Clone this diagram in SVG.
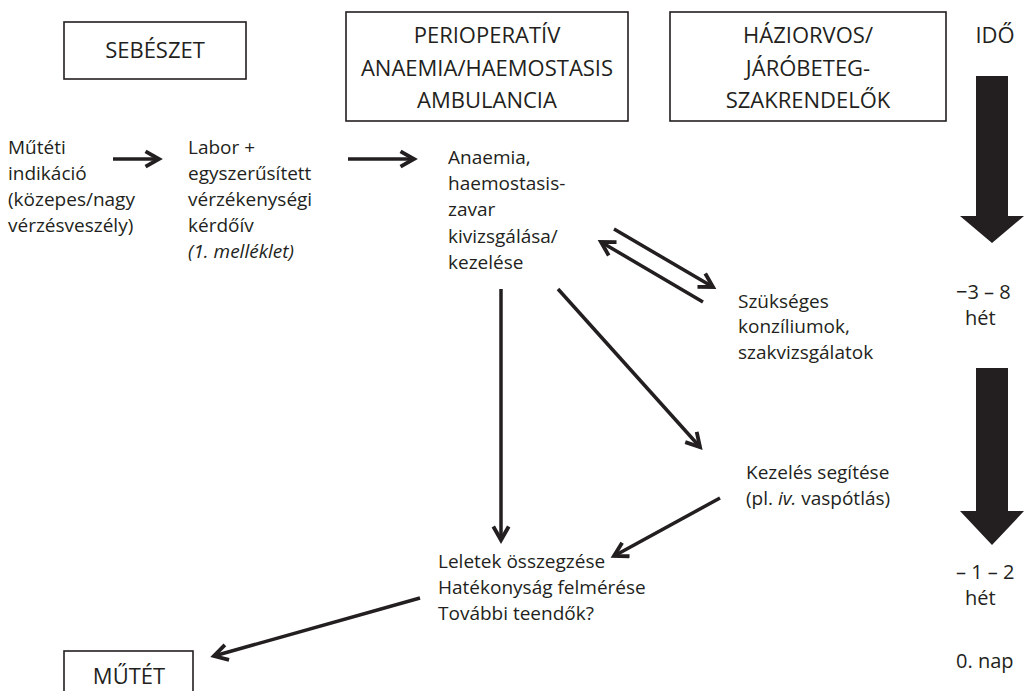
<svg xmlns="http://www.w3.org/2000/svg" width="1026" height="691" viewBox="0 0 1026 691">
<defs>
<marker id="ah" viewBox="0 0 10 10" refX="8" refY="5" markerWidth="5.5" markerHeight="5.5" markerUnits="strokeWidth" orient="auto">
<path d="M1,1 L8,5 L1,9" fill="none" stroke="#231f20" stroke-width="2"/>
</marker>
</defs>
<style>
text{font-family:"Open Sans","Liberation Sans",sans-serif;fill:#231f20;}
.h{font-size:22px;text-anchor:middle;}
.b{font-size:19px;}
.t{font-size:20px;}
.box{fill:#fff;stroke:#231f20;stroke-width:1.6;}
.c{fill:none;stroke:#231f20;stroke-width:3.5;marker-end:url(#ah);}
.big{fill:#231f20;}
</style>
<rect width="1026" height="691" fill="#fff"/>
<g id="sebeszet"><rect class="box" x="64" y="22" width="182" height="57"/><text class="h" x="155" y="58">SEBÉSZET</text></g>
<g id="ambulancia"><rect class="box" x="346" y="12" width="282" height="109"/>
<text class="h" x="487" y="43">PERIOPERATÍV</text><text class="h" x="487" y="76">ANAEMIA/HAEMOSTASIS</text><text class="h" x="487" y="108">AMBULANCIA</text></g>
<g id="haziorvos"><rect class="box" x="670" y="12" width="276" height="109"/>
<text class="h" x="808" y="43">HÁZIORVOS/</text><text class="h" x="808" y="76">JÁRÓBETEG-</text><text class="h" x="808" y="108">SZAKRENDELŐK</text></g>
<g id="ido"><text class="h" x="995" y="43">IDŐ</text></g>
<g id="indikacio"><text class="b" x="8" y="154">Műtéti</text><text class="b" x="8" y="180">indikáció</text><text class="b" x="8" y="206">(közepes/nagy</text><text class="b" x="8" y="232">vérzésveszély)</text></g>
<g id="labor"><text class="b" x="188" y="154">Labor +</text><text class="b" x="188" y="180">egyszerűsített</text><text class="b" x="188" y="206">vérzékenységi</text><text class="b" x="188" y="232">kérdőív</text><text class="b" x="188" y="258" font-style="italic">(1. melléklet)</text></g>
<g id="anaemia"><text class="b" x="448" y="164">Anaemia,</text><text class="b" x="448" y="190">haemostasis-</text><text class="b" x="448" y="216">zavar</text><text class="b" x="448" y="243">kivizsgálása/</text><text class="b" x="448" y="269">kezelése</text></g>
<g id="konzilium"><text class="b" x="738" y="308">Szükséges</text><text class="b" x="738" y="333">konzíliumok,</text><text class="b" x="738" y="359">szakvizsgálatok</text></g>
<g id="kezeles"><text class="b" x="746" y="479">Kezelés segítése</text><text class="b" x="746" y="505">(pl. <tspan font-style="italic">iv.</tspan> vaspótlás)</text></g>
<g id="leletek"><text class="b" x="438" y="568">Leletek összegzése</text><text class="b" x="438" y="594">Hatékonyság felmérése</text><text class="b" x="438" y="620">További teendők?</text></g>
<g id="mutet"><rect class="box" x="64" y="651" width="129" height="50"/><text class="h" x="129" y="684">MŰTÉT</text></g>
<g id="timeline">
<path class="big" d="M976,76 H1008 V216 H1024 L992,243 L960,216 H976 Z"/>
<path class="big" d="M976,368 H1008 V511 H1024 L992,545 L960,511 H976 Z"/>
<text class="t" x="956" y="299">−3 – 8</text><text class="t" x="965" y="325">hét</text>
<text class="t" x="956" y="579">– 1 – 2</text><text class="t" x="965" y="605">hét</text>
<text class="t" x="956" y="668">0. nap</text>
</g>
<g id="connectors">
<line class="c" x1="113" y1="159" x2="159" y2="159"/>
<line class="c" x1="348" y1="159" x2="414" y2="159"/>
<line class="c" x1="614" y1="229" x2="713" y2="287"/>
<line class="c" x1="703" y1="302" x2="601" y2="242"/>
<line class="c" x1="558" y1="289" x2="700" y2="447"/>
<line class="c" x1="501" y1="289" x2="501" y2="540"/>
<line class="c" x1="720" y1="498" x2="614" y2="556"/>
<line class="c" x1="420" y1="598" x2="214" y2="656"/>
</g>
</svg>
